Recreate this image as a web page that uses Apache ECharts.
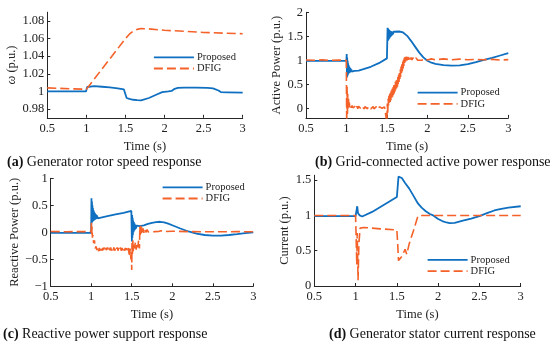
<!DOCTYPE html>
<html><head><meta charset="utf-8">
<script src="https://cdn.jsdelivr.net/npm/echarts@6/dist/echarts.min.js"></script>
<style>html,body{margin:0;padding:0;background:#fff}#c{width:550px;height:346px}</style>
</head><body><div id="c"></div>
<script>
// ---------- tick labels ----------
const xTicks = [0.5, 1, 1.5, 2, 2.5, 3];
const aYTicks = [0.98, 1, 1.02, 1.04, 1.06, 1.08];
const bYTicks = [0, 0.5, 1, 1.5, 2];
const cYTicks = [-1, -0.5, 0, 0.5, 1];
const dYTicks = [0, 0.5, 1, 1.5];
const seriesNames = ['Proposed', 'DFIG'];
const captions = [
  ['(a)', 'Generator rotor speed response'],
  ['(b)', 'Grid-connected active power response'],
  ['(c)', 'Reactive power support response'],
  ['(d)', 'Generator stator current response']
];

// ---------- (a) rotor speed ----------
const aPropT = [0.5, 0.995, 1.0, 1.005, 1.01, 1.03, 1.1, 1.2, 1.3, 1.4, 1.48, 1.505, 1.515, 1.52, 1.55, 1.6, 1.65, 1.7, 1.8, 1.9, 1.97, 2.05, 2.09, 2.13, 2.17, 2.25, 2.4, 2.55, 2.62, 2.69, 2.72, 2.8, 3.0];
const aPropV = [1.000, 1.000, 0.998, 1.001, 1.005, 1.0065, 1.006, 1.0053, 1.0045, 1.0035, 1.0022, 1.001, 0.9925, 0.992, 0.9915, 0.9905, 0.990, 0.9897, 0.9925, 0.9965, 0.9992, 1.0, 1.0005, 1.003, 1.004, 1.0042, 1.0043, 1.004, 1.0035, 1.001, 0.9992, 0.999, 0.9985];
const aDfigT = [0.5, 0.8, 1.0, 1.02, 1.5, 1.55, 1.6, 1.65, 1.7, 1.8, 2.0, 2.5, 3.0];
const aDfigV = [1.004, 1.003, 1.0025, 1.0025, 1.060, 1.065, 1.0685, 1.0705, 1.0715, 1.071, 1.0695, 1.067, 1.0655];

// ---------- (b) active power ----------
const bPropT = [0.5, 0.999, 1.0, 1.003, 1.006, 1.009, 1.012, 1.015, 1.018, 1.021, 1.024, 1.027, 1.03, 1.034, 1.038, 1.042, 1.046, 1.05, 1.055, 1.06, 1.065, 1.07, 1.08, 1.1, 1.15, 1.2, 1.3, 1.4, 1.5,
  1.505, 1.508, 1.511, 1.514, 1.517, 1.52, 1.524, 1.528, 1.532, 1.536, 1.54, 1.545, 1.55, 1.556, 1.562, 1.568, 1.575, 1.582, 1.59, 1.6, 1.65, 1.7, 1.75, 1.8, 1.85, 1.9, 1.95, 2.0, 2.05, 2.1, 2.2, 2.3, 2.4, 2.5, 2.6, 2.7, 2.8, 2.9, 3.0];
const bPropV = [0.99, 0.99, 1.0, 1.13, 0.64, 1.06, 0.67, 0.99, 0.70, 0.94, 0.72, 0.90, 0.73, 0.87, 0.74, 0.85, 0.75, 0.83, 0.76, 0.81, 0.765, 0.80, 0.775, 0.78, 0.785, 0.81, 0.865, 0.94, 1.04,
  1.42, 1.68, 1.40, 1.66, 1.42, 1.65, 1.44, 1.63, 1.46, 1.62, 1.48, 1.61, 1.50, 1.605, 1.52, 1.60, 1.54, 1.595, 1.56, 1.59, 1.60, 1.58, 1.51, 1.40, 1.28, 1.16, 1.06, 0.99, 0.95, 0.925, 0.90, 0.89, 0.895, 0.92, 0.96, 1.01, 1.05, 1.10, 1.15];
const bDfigT = [0.5, 0.6, 0.7, 0.8, 0.9, 0.998, 1.0, 1.003, 1.008, 1.012, 1.016, 1.02, 1.025, 1.03, 1.035, 1.04, 1.05, 1.06, 1.07, 1.08,
  1.09, 1.10, 1.11, 1.12, 1.13, 1.14, 1.15, 1.16, 1.17, 1.18, 1.19, 1.20, 1.21, 1.22, 1.23, 1.24, 1.25, 1.26, 1.27, 1.28, 1.29, 1.30,
  1.31, 1.32, 1.33, 1.34, 1.35, 1.36, 1.37, 1.38, 1.39, 1.40, 1.41, 1.42, 1.43, 1.44, 1.45, 1.46, 1.47, 1.48, 1.49,
  1.5, 1.505, 1.51, 1.515,
  1.520, 1.525, 1.530, 1.535, 1.540, 1.545, 1.550, 1.555, 1.560, 1.565, 1.570, 1.575, 1.580, 1.585, 1.590, 1.595, 1.600, 1.605, 1.610, 1.615,
  1.620, 1.625, 1.630, 1.635, 1.640, 1.645, 1.650, 1.655, 1.660, 1.665, 1.670, 1.675, 1.680, 1.685, 1.690, 1.695, 1.700, 1.705, 1.710, 1.715,
  1.720, 1.725, 1.730, 1.735, 1.740, 1.745, 1.750, 1.76, 1.77, 1.78, 1.79, 1.80, 1.81, 1.82, 1.84, 1.86, 1.88, 1.9, 1.93, 1.96, 2.0, 2.05, 2.1, 2.2, 2.3, 2.4, 2.5, 2.6, 2.7, 2.8, 2.9, 3.0];
const bDfigV = [1.005, 1.0, 1.008, 1.0, 1.006, 1.0, 1.0, -0.3, 0.45, -0.15, 0.3, 0.0, 0.2, 0.05, 0.12, 0.02, 0.08, 0.01, 0.06, 0.01,
  0.05, 0.0, 0.045, -0.005, 0.04, -0.01, 0.04, 0.0, 0.04, -0.01, 0.035, 0.0, 0.04, -0.01, 0.035, 0.0, 0.035, -0.01, 0.035, 0.0, 0.035, -0.01,
  0.03, 0.0, 0.035, -0.01, 0.03, 0.0, 0.035, -0.01, 0.03, 0.0, 0.03, -0.01, 0.03, 0.0, 0.03, -0.01, 0.03, 0.0, 0.02,
  -0.3, 0.1, -0.1, 0.2,
  0.06, 0.26, 0.10, 0.30, 0.13, 0.33, 0.17, 0.37, 0.21, 0.41, 0.24, 0.44, 0.28, 0.48, 0.31, 0.51, 0.35, 0.55, 0.38, 0.58,
  0.42, 0.62, 0.45, 0.65, 0.50, 0.70, 0.55, 0.76, 0.61, 0.81, 0.66, 0.87, 0.72, 0.92, 0.77, 0.97, 0.83, 1.01, 0.88, 1.05,
  0.93, 1.07, 0.97, 1.08, 0.99, 1.08, 1.0, 1.07, 1.01, 1.065, 1.0, 1.06, 1.005, 1.055, 1.0, 1.05, 1.0, 1.04, 1.0, 1.035, 1.005, 1.03, 1.01, 1.03, 1.01, 1.025, 1.01, 1.02, 1.01, 1.02, 1.005, 1.015, 1.01];

// ---------- (c) reactive power ----------
const cPropT = [0.5, 0.999, 1.0, 1.003, 1.006, 1.009, 1.012, 1.015, 1.018, 1.021, 1.025, 1.029, 1.033, 1.037, 1.042, 1.047, 1.052, 1.058, 1.065, 1.072, 1.08, 1.1, 1.2, 1.3, 1.4, 1.495,
  1.5, 1.502, 1.505, 1.508, 1.511, 1.514, 1.518, 1.522, 1.526, 1.53, 1.535, 1.54, 1.546, 1.552, 1.56, 1.57, 1.58, 1.6, 1.65, 1.7, 1.75, 1.8, 1.85, 1.9, 1.95, 2.0, 2.1, 2.2, 2.3, 2.4, 2.5, 2.6, 2.7, 2.8, 2.9, 3.0];
const cPropV = [-0.01, -0.01, 0.0, 0.63, 0.17, 0.57, 0.19, 0.50, 0.20, 0.45, 0.21, 0.41, 0.22, 0.38, 0.23, 0.35, 0.24, 0.33, 0.25, 0.31, 0.26, 0.28, 0.30, 0.33, 0.36, 0.395,
  0.40, -0.17, 0.32, -0.10, 0.27, -0.05, 0.22, 0.0, 0.19, 0.03, 0.16, 0.05, 0.14, 0.07, 0.125, 0.09, 0.11, 0.115, 0.13, 0.155, 0.175, 0.19, 0.195, 0.185, 0.16, 0.13, 0.07, 0.015, -0.025, -0.05, -0.06, -0.06, -0.05, -0.035, -0.015, 0.0];
const cDfigT = [0.5, 0.7, 0.9, 0.999, 1.002, 1.006, 1.01, 1.015, 1.02, 1.03, 1.04, 1.05,
  1.06, 1.07, 1.08, 1.09, 1.10, 1.11, 1.12, 1.13, 1.14, 1.15, 1.16, 1.17, 1.18, 1.19, 1.20, 1.21, 1.22, 1.23, 1.24, 1.25, 1.26, 1.27, 1.28, 1.29, 1.30,
  1.31, 1.32, 1.33, 1.34, 1.35, 1.36, 1.37, 1.38, 1.39, 1.40, 1.41, 1.42, 1.43, 1.44, 1.45, 1.46, 1.47, 1.48, 1.49, 1.495,
  1.5, 1.503, 1.508, 1.513, 1.518, 1.525, 1.535, 1.545, 1.555, 1.565, 1.575, 1.585, 1.595,
  1.6, 1.605, 1.61, 1.616, 1.622, 1.63, 1.64, 1.65, 1.66, 1.675, 1.69, 1.705, 1.72, 1.74, 1.76, 1.78, 1.8, 1.83, 1.86, 1.9, 2.0, 2.2, 2.5, 2.8, 3.0];
const cDfigV = [0.015, 0.01, 0.015, 0.01, 0.2, -0.05, 0.1, -0.1, -0.05, -0.2, -0.15, -0.3,
  -0.26, -0.33, -0.28, -0.35, -0.29, -0.34, -0.28, -0.34, -0.29, -0.33, -0.28, -0.34, -0.29, -0.33, -0.28, -0.34, -0.29, -0.33, -0.28, -0.34, -0.29, -0.33, -0.28, -0.34, -0.29,
  -0.33, -0.28, -0.34, -0.29, -0.33, -0.28, -0.34, -0.29, -0.33, -0.28, -0.34, -0.29, -0.33, -0.28, -0.34, -0.29, -0.45, -0.3, -0.5, -0.35,
  -0.7, -0.2, -0.4, -0.15, -0.35, -0.2, -0.3, -0.18, -0.32, -0.2, -0.28, -0.15, -0.3,
  0.1, -0.05, 0.12, -0.03, 0.09, -0.02, 0.07, -0.01, 0.06, 0.0, 0.05, 0.005, 0.04, 0.01, 0.035, 0.012, 0.03, 0.015, 0.028, 0.015, 0.02, 0.012, 0.01, 0.012, 0.01];

// ---------- (d) stator current ----------
const dPropT = [0.5, 1.0, 1.01, 1.02, 1.03, 1.05, 1.08, 1.1, 1.2, 1.3, 1.4, 1.5, 1.512, 1.52, 1.56, 1.6, 1.65, 1.7, 1.755, 1.8, 1.85, 1.9, 1.94, 2.0, 2.05, 2.1, 2.14, 2.2, 2.3, 2.4, 2.5, 2.6, 2.68, 2.75, 2.85, 3.0];
const dPropV = [0.99, 0.99, 1.0, 1.13, 1.03, 1.0, 0.985, 0.99, 1.05, 1.12, 1.19, 1.26, 1.25, 1.55, 1.53, 1.46, 1.38, 1.28, 1.17, 1.11, 1.06, 1.02, 1.0, 0.95, 0.92, 0.90, 0.89, 0.895, 0.925, 0.955, 0.99, 1.035, 1.07, 1.09, 1.11, 1.13];
const dDfigT = [0.5, 1.0, 1.01, 1.015, 1.02, 1.03, 1.04, 1.055, 1.1, 1.3, 1.5, 1.51, 1.52, 1.56, 1.6, 1.62, 1.65, 1.7, 1.75, 1.77, 2.0, 2.5, 3.0];
const dDfigV = [1.0, 1.0, 1.0, 0.3, 0.75, 0.08, 0.6, 0.82, 0.83, 0.81, 0.795, 0.6, 0.36, 0.42, 0.52, 0.45, 0.6, 0.78, 0.97, 1.0, 1.0, 1.0, 1.0];

// ---------- build ----------
const F = 'Liberation Serif';
const BLUE = '#0f6fc0', ORANGE = '#f4622a';
const zip = (t, v) => t.map((x, i) => [x, v[i]]);
const grids = [
  {left: 47.3, top: 12.2, width: 195.4, height: 105.6},
  {left: 306, top: 12.3, width: 202.3, height: 105.6},
  {left: 50.7, top: 178.3, width: 202.6, height: 108},
  {left: 314.3, top: 175.2, width: 206.4, height: 110.8}
];
const txt = {fontFamily: F, fontSize: 12.5, color: '#222'};
const minus = v => String(v).replace('-', '\u2212');
function xAx(gi) {
  return {type: 'value', gridIndex: gi, min: 0.5, max: 3, interval: 0.5,
    name: 'Time (s)', nameLocation: 'middle', nameGap: 22, nameTextStyle: txt,
    axisLine: {onZero: false, lineStyle: {color: '#262626', width: 1}},
    axisTick: {inside: true, length: 3, lineStyle: {color: '#262626'}, customValues: xTicks},
    axisLabel: Object.assign({margin: 4, customValues: xTicks}, txt),
    splitLine: {show: false}};
}
function yAx(gi, min, max, ticks, name, gap) {
  return {type: 'value', gridIndex: gi, min: min, max: max,
    name: name, nameLocation: 'middle', nameGap: gap,
    nameTextStyle: Object.assign({rich: {i: {fontFamily: F, fontSize: 12.5, fontStyle: 'italic', color: '#222'}}}, txt),
    axisLine: {show: true, onZero: false, lineStyle: {color: '#262626', width: 1}},
    axisTick: {show: true, inside: true, length: 3, lineStyle: {color: '#262626'}, customValues: ticks},
    axisLabel: Object.assign({margin: 3, customValues: ticks, formatter: minus}, txt),
    splitLine: {show: false}};
}
const panels = [
  [aPropT, aPropV, aDfigT, aDfigV],
  [bPropT, bPropV, bDfigT, bDfigV],
  [cPropT, cPropV, cDfigT, cDfigV],
  [dPropT, dPropV, dDfigT, dDfigV]
];
const series = [];
panels.forEach((p, i) => {
  series.push({name: seriesNames[0], type: 'line', xAxisIndex: i, yAxisIndex: i, data: zip(p[0], p[1]),
    showSymbol: false, symbol: 'none', lineStyle: {color: BLUE, width: 1.8}, itemStyle: {color: BLUE}, animation: false});
  series.push({name: seriesNames[1], type: 'line', xAxisIndex: i, yAxisIndex: i, data: zip(p[2], p[3]),
    showSymbol: false, symbol: 'none', lineStyle: {color: ORANGE, width: 1.6, type: [9, 4]}, itemStyle: {color: ORANGE}, animation: false});
});
const legPos = [[153, 51.7], [416.7, 87], [161.7, 181.7], [426.7, 254.3]];
const legends = legPos.map(p => ({left: p[0], top: p[1], orient: 'vertical', itemWidth: 40, itemHeight: 14, itemGap: 0,
  padding: 0, selectedMode: false, data: seriesNames,
  itemStyle: {opacity: 0, borderWidth: 0},
  lineStyle: {width: 1.8},
  textStyle: {fontFamily: F, fontSize: 10.5, color: '#222', padding: [0, 0, 0, -2]}}));
const capPos = [[7, 154], [315, 154], [3, 326], [329, 326.7]];
const titles = capPos.map((p, i) => ({left: p[0], top: p[1], padding: 0,
  text: '{b|' + captions[i][0] + '} ' + captions[i][1],
  textStyle: {fontFamily: F, fontSize: 14, fontWeight: 'normal', color: '#111', lineHeight: 16,
    rich: {b: {fontFamily: F, fontSize: 14, fontWeight: 'bold', color: '#111', lineHeight: 16}}}}));

const chart = echarts.init(document.getElementById('c'), null, {renderer: 'canvas'});
chart.setOption({
  animation: false,
  backgroundColor: '#fff',
  title: titles,
  legend: legends,
  grid: grids,
  xAxis: [0, 1, 2, 3].map(xAx),
  yAxis: [
    yAx(0, 0.97, 1.09, aYTicks, '{i|ω} (p.u.)', 26),
    yAx(1, -0.2, 2, bYTicks, 'Active Power (p.u.)', 21),
    yAx(2, -1, 1, cYTicks, 'Reactive Power (p.u.)', 28),
    yAx(3, 0, 1.57, dYTicks, 'Current (p.u.)', 23)
  ],
  series: series
});
</script></body></html>
